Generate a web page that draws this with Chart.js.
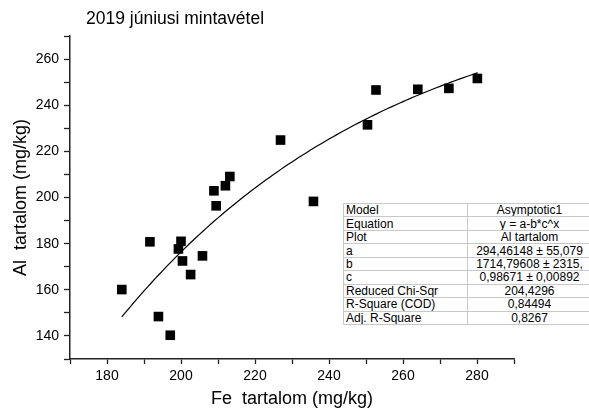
<!DOCTYPE html>
<html>
<head>
<meta charset="utf-8">
<script src="https://cdn.jsdelivr.net/npm/chart.js@4/dist/chart.umd.min.js"></script>
<style>
  html, body { margin: 0; padding: 0; background: #fff; overflow: hidden; }
  #wrap { position: relative; width: 589px; height: 411px; }
  #fit {
    position: absolute; left: 343px; top: 203px;
    width: 249px; height: 122px;
    table-layout: fixed; border-collapse: collapse;
    font: 12px "Liberation Sans", Arial, sans-serif; color: #000;
    background: #fff; border: 1px solid #000;
  }
  #fit td { border: 1px solid #c8c8c8; padding: 0 2px; line-height: 12px; white-space: nowrap; overflow: hidden; }
  #fit td:first-child { width: 119px; text-align: left; }
  #fit td:last-child { text-align: center; }
</style>
</head>
<body>
<div id="wrap">
  <canvas id="c" width="589" height="411"></canvas>
  <table id="fit"><tbody></tbody></table>
</div>
<script>
// Fe and Al content of the June 2019 samples (mg/kg)
const feValues = [184.0, 191.6, 193.9, 197.1, 199.3, 200.0, 200.4, 202.6, 205.8, 209.5,
                  208.9, 212.0, 213.2, 226.9, 235.8, 250.4, 252.7, 264.0, 272.4, 280.1];
const alValues = [160.1, 180.8, 148.4, 140.3, 177.7, 181.0, 172.5, 166.6, 174.7, 196.4,
                  202.9, 205.1, 209.1, 224.9, 198.3, 231.5, 246.6, 246.9, 247.3, 251.6];

// Asymptotic1 fit: y = a - b*c^x
const fitA = 294.46148;
const fitB = 1714.79608;
const fitC = 0.98671;

// Fit summary rows
const fitLabels = ["Model", "Equation", "Plot", "a", "b", "c",
                   "Reduced Chi-Sqr", "R-Square (COD)", "Adj. R-Square"];
const fitTexts  = ["Asymptotic1", "y = a-b*c^x", "Al  tartalom",
                   "294,46148 \u00b1 55,079", "1714,79608 \u00b1 2315,", "0,98671 \u00b1 0,00892",
                   "204,4296", "0,84494", "0,8267"];

const chartTitle = "2019 júniusi mintavétel";
const xTitle = "Fe  tartalom (mg/kg)";
const yTitle = "Al  tartalom (mg/kg)";

// fitted curve across the measured Fe range
const feMin = Math.min(...feValues), feMax = Math.max(...feValues);
const curve = [];
for (let x = feMin; x < feMax; x += 1) curve.push({ x, y: fitA - fitB * Math.pow(fitC, x) });
curve.push({ x: feMax, y: fitA - fitB * Math.pow(fitC, feMax) });

const tbody = document.querySelector('#fit tbody');
fitLabels.forEach((lab, i) => {
  const tr = document.createElement('tr');
  const td1 = document.createElement('td'); td1.textContent = lab;
  const td2 = document.createElement('td'); td2.textContent = fitTexts[i];
  tr.appendChild(td1); tr.appendChild(td2); tbody.appendChild(tr);
});

const font = "'Liberation Sans', Arial, sans-serif";
const axisColor = '#222';

const titlePlugin = {
  id: 'plotTitle',
  afterDraw(chart) {
    const ctx = chart.ctx;
    ctx.save();
    ctx.font = `17.5px ${font}`;
    ctx.fillStyle = '#000';
    ctx.textBaseline = 'middle';
    ctx.textAlign = 'left';
    ctx.fillText(chartTitle, 86, 19);
    ctx.restore();
  }
};

new Chart(document.getElementById('c'), {
  type: 'scatter',
  data: {
    datasets: [
      {
        label: 'Al tartalom',
        data: feValues.map((x, i) => ({ x, y: alValues[i] })),
        backgroundColor: '#000',
        borderColor: '#000',
        borderWidth: 0,
        pointStyle: 'rect',
        pointRadius: 6.8,
        pointHoverRadius: 6.8
      },
      {
        type: 'line',
        label: 'Asymptotic1',
        data: curve,
        borderColor: '#000',
        borderWidth: 1.2,
        pointRadius: 0,
        tension: 0,
        fill: false
      }
    ]
  },
  options: {
    responsive: false,
    animation: false,
    layout: { padding: { top: 36, right: 75, left: 0, bottom: 0 } },
    plugins: { legend: { display: false }, title: { display: false }, tooltip: { enabled: false } },
    scales: {
      x: {
        type: 'linear',
        min: 170, max: 290,
        afterFit(s) { s.height = 52; },
        border: { display: true, color: axisColor, width: 1.5 },
        grid: { drawOnChartArea: false, drawTicks: true, tickLength: 5, tickColor: axisColor, tickWidth: 1.3 },
        ticks: {
          stepSize: 10, padding: 4, color: '#000',
          font: { family: font, size: 14 },
          callback: v => (v % 20 === 0 && v > 170 && v < 290) ? String(v) : ''
        },
        title: { display: true, text: xTitle, color: '#000', font: { family: font, size: 18 }, padding: { top: 0, bottom: 1 } }
      },
      y: {
        type: 'linear',
        min: 130, max: 270,
        afterFit(s) { s.width = 70; },
        border: { display: true, color: axisColor, width: 1.5 },
        grid: { drawOnChartArea: false, drawTicks: true, tickLength: 6, tickColor: axisColor, tickWidth: 1.3 },
        ticks: {
          stepSize: 10, padding: 5, color: '#000',
          font: { family: font, size: 14 },
          callback: v => (v % 20 === 0 && v > 130 && v < 270) ? String(v) : ''
        },
        title: { display: true, text: yTitle, color: '#000', font: { family: font, size: 18 }, padding: { top: 10, bottom: 0 } }
      }
    }
  },
  plugins: [titlePlugin]
});
</script>
</body>
</html>
